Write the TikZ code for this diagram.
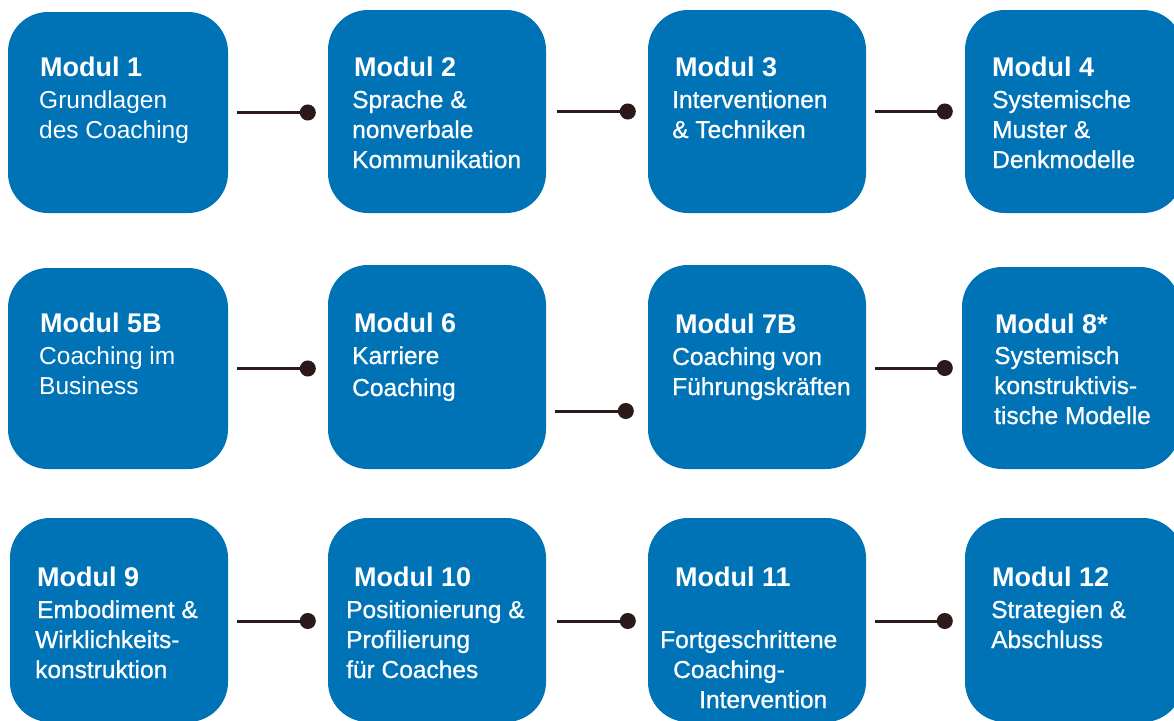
\documentclass[tikz,border=0pt]{standalone}
\usepackage{fontspec}
\setmainfont{Liberation Sans}
\newfontfamily\medfont[FakeBold=0.8]{Liberation Sans}
\usetikzlibrary{arrows.meta,calc}
\definecolor{modulblau}{RGB}{0,115,183}
\definecolor{linienbraun}{RGB}{44,26,26}
\newcommand\titel[1]{{\fontsize{27}{30}\selectfont\bfseries #1}}
\tikzset{
	modul/.style={fill=modulblau, rectangle, rounded corners=40pt, minimum width=218pt, minimum height=203pt, inner sep=0pt},
	modultext/.style={text=white, align=left, inner sep=0pt, anchor=base west, font=\fontsize{24.5}{30}\selectfont},
	verbindung/.style={draw=linienbraun, line width=3pt, -{Circle[length=16pt]}}
}
\begin{document}
\begin{tikzpicture}[x=1pt, y=-1pt]
	\useasboundingbox (0,0) rectangle (1174,720);
	\node[modul, minimum width=220pt, minimum height=201pt] (Modul 1) at (118, 112.5) {};
	\node[modul] (Modul 2) at (437, 111.5) {};
	\node[modul] (Modul 3) at (757, 111.5) {};
	\node[modul] (Modul 4) at (1074, 111.5) {};
	\node[modul, minimum width=220pt, minimum height=201pt] (Modul 5B) at (118, 368.5) {};
	\node[modul, minimum height=204pt] (Modul 6) at (437, 367) {};
	\node[modul, minimum height=204pt] (Modul 7B) at (757, 367) {};
	\node[modul, minimum height=202pt] (Modul 8) at (1071, 368) {};
	\node[modul, minimum height=204pt] (Modul 9) at (119, 620) {};
	\node[modul, minimum height=204pt] (Modul 10) at (437, 620) {};
	\node[modul, minimum height=204pt] (Modul 11) at (757, 620) {};
	\node[modul, minimum height=204pt] (Modul 12) at (1074, 620) {};
	\node[modultext] (Text 1) at (39, 138) {\hspace*{1pt}\titel{Modul 1}\\[2pt] Grundlagen\\ des Coaching};
	\node[modultext] (Text 2) at (352, 168) {\hspace*{2pt}\titel{Modul 2}\\[2pt] \medfont Sprache \&\\ \medfont nonverbale\\ \medfont Kommunikation};
	\node[modultext] (Text 3) at (672, 138) {\hspace*{3pt}\titel{Modul 3}\\[2pt] \medfont Interventionen\\ \medfont \& Techniken};
	\node[modultext] (Text 4) at (992, 168) {\titel{Modul 4}\\[2pt] \medfont Systemische\\ \medfont Muster \&\\ \medfont Denkmodelle};
	\node[modultext] (Text 5B) at (39, 394) {\hspace*{1pt}\titel{Modul 5B}\\[2pt] Coaching im\\ Business};
	\node[modultext] (Text 6) at (352, 396) {\hspace*{2pt}\titel{Modul 6}\\[2pt] \medfont Karriere\\[2pt] \medfont Coaching};
	\node[modultext] (Text 7B) at (672, 395) {\hspace*{3pt}\titel{Modul 7B}\\[2pt] \medfont Coaching von\\ \medfont Führungskräften};
	\node[modultext] (Text 8) at (994, 424) {\hspace*{1pt}\titel{Modul 8*}\\[1pt] \medfont Systemisch\\ \medfont konstruktivis-\\ \medfont tische Modelle};
	\node[modultext] (Text 9) at (35, 678) {\hspace*{2pt}\titel{Modul 9}\\[2pt] \medfont \hspace*{2pt}Embodiment \&\\ \medfont Wirklichkeits-\\ \medfont konstruktion};
	\node[modultext] (Text 10) at (346, 678) {\hspace*{8pt}\titel{Modul 10}\\[2pt] \medfont Positionierung \&\\ \medfont Profilierung\\ \medfont für Coaches};
	\node[modultext] (Text 11) at (660, 708) {\hspace*{15pt}\titel{Modul 11}\\[32pt] \medfont Fortgeschrittene\\ \medfont \hspace*{13pt}Coaching-\\ \medfont \hspace*{39pt}Intervention};
	\node[modultext] (Text 12) at (991, 648) {\hspace*{1pt}\titel{Modul 12}\\[2pt] \medfont Strategien \&\\ \medfont Abschluss};
	\draw[verbindung] ($(Modul 1.east)+(9,0)$) -- ($(Modul 1.east -| Modul 2.west)+(-12,0)$);
	\draw[verbindung] ($(Modul 2.east)+(11,0)$) -- ($(Modul 2.east -| Modul 3.west)+(-12,0)$);
	\draw[verbindung] ($(Modul 3.east)+(9,0)$) -- ($(Modul 3.east -| Modul 4.west)+(-12,0)$);
	\draw[verbindung] ($(Modul 5B.east)+(9,0)$) -- ($(Modul 5B.east -| Modul 6.west)+(-12,0)$);
	\draw[verbindung] ($(Modul 6.east)+(9,44)$) -- ($(Modul 6.east -| Modul 7B.west)+(-14,44)$);
	\draw[verbindung] ($(Modul 7B.east)+(9,1)$) -- ($(Modul 7B.east -| Modul 8.west)+(-9,1)$);
	\draw[verbindung] ($(Modul 9.east)+(9,1)$) -- ($(Modul 9.east -| Modul 10.west)+(-12,1)$);
	\draw[verbindung] ($(Modul 10.east)+(11,1)$) -- ($(Modul 10.east -| Modul 11.west)+(-12,1)$);
	\draw[verbindung] ($(Modul 11.east)+(9,1)$) -- ($(Modul 11.east -| Modul 12.west)+(-12,1)$);
\end{tikzpicture}
\end{document}
